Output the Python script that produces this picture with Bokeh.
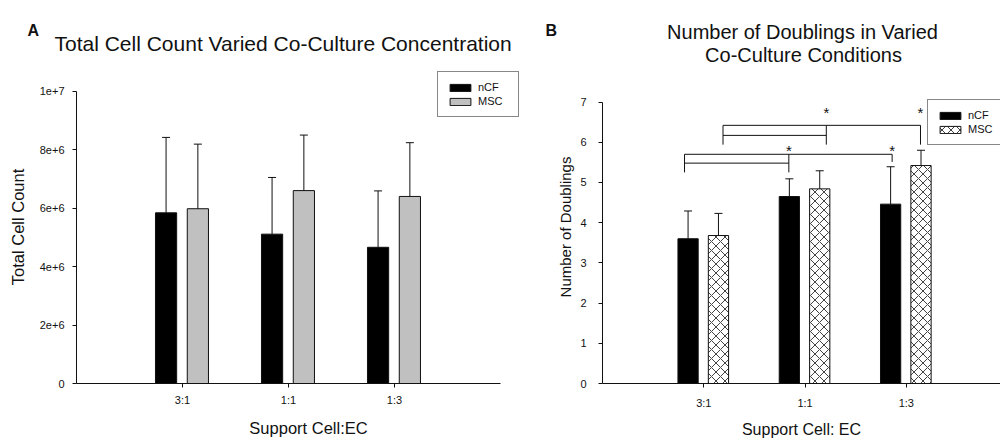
from bokeh.plotting import figure
from bokeh.layouts import row, column
from bokeh.models import (Range1d, FixedTicker, Whisker, TeeHead, ColumnDataSource,
                          Legend, LegendItem, Label)
from bokeh.embed import file_html
from bokeh.resources import INLINE
from bokeh.core.properties import value

FONT = "Liberation Sans"
INK = "#111111"

# ---- shared categories ----
ratios = ["3:1", "1:1", "1:3"]
positions = [1, 2, 3]
series = ["nCF", "MSC"]

# ---- panel A: total cell count (mean, upper error) ----
count_ncf = [5.84e6, 5.11e6, 4.66e6]
count_ncf_err = [2.58e6, 1.94e6, 1.93e6]
count_msc = [5.98e6, 6.60e6, 6.40e6]
count_msc_err = [2.21e6, 1.90e6, 1.84e6]
count_ticks = [0, 2000000, 4000000, 6000000, 8000000, 10000000]
count_tick_labels = ["0", "2e+6", "4e+6", "6e+6", "8e+6", "1e+7"]

# ---- panel B: number of doublings (mean, upper error) ----
dbl_ncf = [3.60, 4.65, 4.46]
dbl_ncf_err = [0.69, 0.44, 0.93]
dbl_msc = [3.68, 4.84, 5.42]
dbl_msc_err = [0.55, 0.45, 0.38]
dbl_ticks = [0, 1, 2, 3, 4, 5, 6, 7]

# significance brackets: leg x positions and rail / foot levels
sig_ncf_x = [0.81, 1.84, 2.86]
sig_ncf_y = [5.70, 5.48, 5.25, 5.51]   # top rail, inner rail, foot, last foot
sig_msc_x = [1.19, 2.21, 3.14]
sig_msc_y = [6.42, 6.17, 5.94, 5.94]
sig_star_y = [5.87, 6.81]              # nCF bracket, MSC bracket

BAR_W = 0.2
OFF_NCF = -0.155
OFF_MSC = 0.145
PAGE_W = 1000
HEAD_H = 70          # height of the title strip above the panels


def style_axes(p, label_size, xl_size, yl_size):
    for ax in (p.xaxis[0], p.yaxis[0]):
        ax.axis_line_color = INK
        ax.axis_line_width = 1
        ax.major_tick_line_color = INK
        ax.major_tick_out = 4
        ax.major_tick_in = 0
        ax.minor_tick_line_color = None
        ax.major_label_text_font = FONT
        ax.major_label_text_font_size = label_size
        ax.major_label_text_color = INK
        ax.axis_label_text_font = FONT
        ax.axis_label_text_font_style = "normal"
        ax.axis_label_text_color = INK
    p.xaxis[0].axis_label_text_font_size = xl_size
    p.yaxis[0].axis_label_text_font_size = yl_size
    p.xgrid.visible = False
    p.ygrid.visible = False
    p.outline_line_color = None
    p.background_fill_color = "white"
    p.border_fill_color = "white"


def add_errors(p, src):
    p.add_layout(Whisker(source=src, base="x", lower="top", upper="hi",
                         lower_head=None,
                         upper_head=TeeHead(size=8, line_color=INK, line_width=1),
                         line_color=INK, line_width=1, level="overlay"))


def make_legend(r1, r2, loc):
    return Legend(items=[LegendItem(label=series[0], renderers=[r1]),
                         LegendItem(label=series[1], renderers=[r2])],
                  location=loc, orientation="vertical",
                  border_line_color=INK, border_line_width=1,
                  background_fill_color="white", background_fill_alpha=1,
                  glyph_width=26, glyph_height=9, label_standoff=5,
                  label_height=12, label_width=31, padding=9, spacing=2, margin=0,
                  label_text_font=FONT, label_text_font_size="11px",
                  label_text_color=INK)


def title_label(x, y, text, size, bold=False, align="left"):
    return Label(x=x, y=y, text=text, text_font=FONT, text_font_size=size,
                 text_font_style="bold" if bold else "normal", text_color=INK,
                 text_baseline="alphabetic", text_align=align)


# ================= title strip (pixel coordinates, y grows downward) =================
head = figure(width=PAGE_W, height=HEAD_H, x_range=Range1d(0, PAGE_W),
              y_range=Range1d(HEAD_H, 0), x_axis_location=None, y_axis_location=None,
              output_backend="svg", toolbar_location=None, min_border=0,
              min_border_left=0, min_border_right=0, min_border_top=0, min_border_bottom=0)
head.xgrid.visible = False
head.ygrid.visible = False
head.outline_line_color = None
head.add_layout(title_label(27, 30, "A", "16px", bold=True))
head.add_layout(title_label(54, 43, "Total Cell Count Varied Co-Culture Concentration", "21px"))
head.add_layout(title_label(545, 30, "B", "16px", bold=True))
head.add_layout(title_label(802, 31, "Number of Doublings in Varied", "20px", align="center"))
head.add_layout(title_label(803, 54, "Co-Culture Conditions", "20px", align="center"))

# ================= Panel A =================
A_W, A_H = 540, 440 - HEAD_H
A_L, A_B = 76, 53
A_PX_PER_CAT = 106.0
A_FRAME_H = A_H - A_B
A_YMAX = 1e7 * A_FRAME_H / 296.0
A_XMAX = (A_W - A_L) / A_PX_PER_CAT

pa = figure(width=A_W, height=A_H, x_range=Range1d(0, A_XMAX), y_range=Range1d(0, A_YMAX),
            output_backend="svg", toolbar_location=None,
            min_border_left=A_L, min_border_right=0,
            min_border_top=0, min_border_bottom=A_B)
style_axes(pa, "11px", "16.5px", "16.5px")

src_a_ncf = ColumnDataSource(dict(x=[v + OFF_NCF for v in positions], top=count_ncf,
                                  hi=[m + e for m, e in zip(count_ncf, count_ncf_err)]))
src_a_msc = ColumnDataSource(dict(x=[v + OFF_MSC for v in positions], top=count_msc,
                                  hi=[m + e for m, e in zip(count_msc, count_msc_err)]))
ra1 = pa.vbar(x="x", top="top", width=BAR_W, source=src_a_ncf,
              fill_color="black", line_color=INK, line_width=1)
ra2 = pa.vbar(x="x", top="top", width=BAR_W, source=src_a_msc,
              fill_color="#c0c0c0", line_color=INK, line_width=1)
add_errors(pa, src_a_ncf)
add_errors(pa, src_a_msc)

pa.xaxis.ticker = FixedTicker(ticks=positions)
pa.xaxis.major_label_overrides = dict(zip(positions, ratios))
pa.xaxis.bounds = (0, 4)
pa.yaxis.ticker = FixedTicker(ticks=count_ticks)
pa.yaxis.major_label_overrides = dict(zip(count_ticks, count_tick_labels))
pa.yaxis.bounds = (0, 1e7)
pa.xaxis.axis_label = "Support Cell:EC"
pa.yaxis.axis_label = "Total Cell Count"
pa.xaxis.major_label_standoff = 6
pa.xaxis.axis_label_standoff = 10
pa.yaxis.major_label_standoff = 8
pa.yaxis.axis_label_standoff = 10

pa.add_layout(make_legend(ra1, ra2, (437 - A_L, A_FRAME_H - (121 - HEAD_H))))

# ================= Panel B =================
B_W, B_H = 460, 440 - HEAD_H
B_L, B_B = 62, 55
B_FRAME_H = B_H - B_B
B_PX_PER_UNIT = 40.47
B_YMAX = B_FRAME_H / B_PX_PER_UNIT
B_XMAX = 3.93

pb = figure(width=B_W, height=B_H, x_range=Range1d(0, B_XMAX), y_range=Range1d(0, B_YMAX),
            output_backend="svg", toolbar_location=None,
            min_border_left=B_L, min_border_right=0,
            min_border_top=0, min_border_bottom=B_B)
style_axes(pb, "11px", "16px", "15px")

src_b_ncf = ColumnDataSource(dict(x=[v + OFF_NCF for v in positions], top=dbl_ncf,
                                  hi=[m + e for m, e in zip(dbl_ncf, dbl_ncf_err)]))
src_b_msc = ColumnDataSource(dict(x=[v + OFF_MSC for v in positions], top=dbl_msc,
                                  hi=[m + e for m, e in zip(dbl_msc, dbl_msc_err)]))
rb1 = pb.vbar(x="x", top="top", width=BAR_W, source=src_b_ncf,
              fill_color="black", line_color=INK, line_width=1)
rb2 = pb.vbar(x="x", top="top", width=BAR_W, source=src_b_msc,
              fill_color="white", line_color=INK, line_width=1,
              hatch_pattern="diagonal_cross", hatch_color=INK,
              hatch_scale=9, hatch_weight=0.8)
add_errors(pb, src_b_ncf)
add_errors(pb, src_b_msc)

# significance brackets
for bx, by in ((sig_ncf_x, sig_ncf_y), (sig_msc_x, sig_msc_y)):
    top, mid, foot, last_foot = by
    pb.segment(x0=[bx[0], bx[0], bx[0], bx[1], bx[2]],
               y0=[top, mid, top, top, top],
               x1=[bx[2], bx[1], bx[0], bx[1], bx[2]],
               y1=[top, mid, foot, foot, last_foot],
               line_color=INK, line_width=1)
pb.text(x=[sig_ncf_x[1], sig_ncf_x[2], sig_msc_x[1], sig_msc_x[2]],
        y=[sig_star_y[0], sig_star_y[0], sig_star_y[1], sig_star_y[1]],
        text=["*", "*", "*", "*"], text_font=value(FONT), text_font_size="15px",
        text_color=INK, text_align="center", text_baseline="middle", y_offset=3)

pb.xaxis.ticker = FixedTicker(ticks=positions)
pb.xaxis.major_label_overrides = dict(zip(positions, ratios))
pb.yaxis.ticker = FixedTicker(ticks=dbl_ticks)
pb.yaxis.bounds = (0, 7)
pb.xaxis.axis_label = "Support Cell: EC"
pb.yaxis.axis_label = "Number of Doublings"
pb.xaxis.major_label_standoff = 9
pb.xaxis.axis_label_standoff = 9
pb.yaxis.major_label_standoff = 12
pb.yaxis.axis_label_standoff = 3

pb.add_layout(make_legend(rb1, rb2, (927 - 540 - B_L, B_FRAME_H - (147 - HEAD_H))))

layout = column(head, row(pa, pb))
open("out.html", "w").write(file_html(layout, INLINE))
